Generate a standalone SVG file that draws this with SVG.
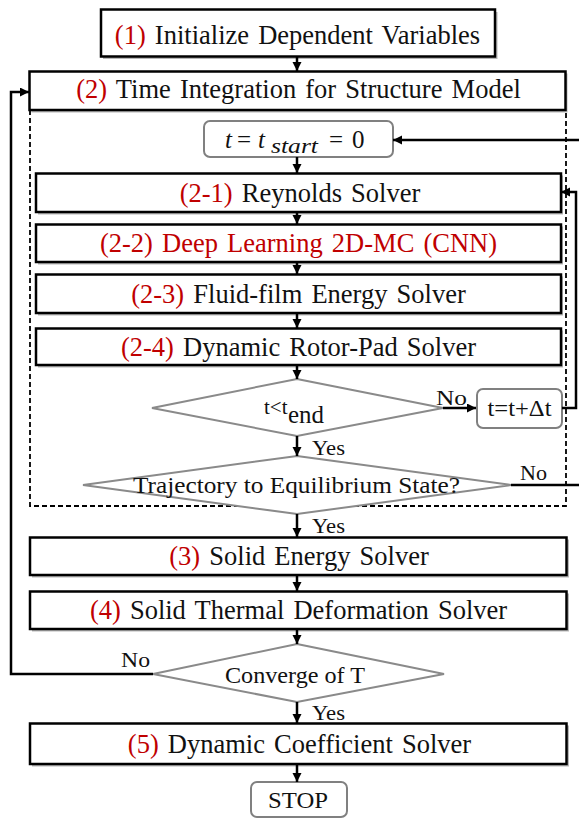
<svg xmlns="http://www.w3.org/2000/svg" width="579" height="819" viewBox="0 0 579 819" font-family="'Liberation Serif', 'Times New Roman', Times, serif">
<style>
  text { font-family: 'Liberation Serif', 'Times New Roman', Times, serif; fill: #111; }
  .lbl { font-size: 26.5px; text-anchor: middle; word-spacing: 2.5px; }
  .small { font-size: 22px; }
  .red { fill: #C00000; }
  .box { fill: #fff; stroke: #000; stroke-width: 2.5; }
  .shadow { fill: #b8b8b8; stroke: none; }
  .rbox { fill: #fff; stroke: #808080; stroke-width: 2; }
  .dia { fill: #fff; stroke: #8a8a8a; stroke-width: 2; }
  .conn { fill: none; stroke: #000; stroke-width: 2.5; }
  .dash { fill: none; stroke: #000; stroke-width: 1.8; stroke-dasharray: 5 3; }
</style>
<defs>
  <marker id="ah" markerUnits="userSpaceOnUse" markerWidth="10" markerHeight="10" refX="9" refY="4.5" orient="auto">
    <path d="M0,0 L9,4.5 L0,9 z" fill="#000"/>
  </marker>
</defs>
<rect width="579" height="819" fill="#fff"/>

<!-- dashed region -->
<path class="dash" d="M30,110 V506 H566 V110"/>

<g id="n1">
  <rect class="shadow" x="103" y="12" width="394.5" height="47"/>
  <rect class="box" x="101" y="9.5" width="394" height="47"/>
  <text class="lbl" x="297.5" y="43.5"><tspan class="red">(1)</tspan> Initialize Dependent Variables</text>
</g>
<g id="n2">
  <rect class="shadow" x="31.5" y="73.5" width="536" height="39"/>
  <rect class="box" x="29.5" y="71.5" width="536" height="38.5"/>
  <text class="lbl" x="298.5" y="97.5"><tspan class="red">(2)</tspan> Time Integration for Structure Model</text>
</g>
<g id="n_tstart">
  <rect class="rbox" x="204" y="121" width="189" height="36" rx="6"/>
  <text y="148" font-size="25"><tspan x="225" font-style="italic">t</tspan><tspan x="237">=</tspan><tspan x="258" font-style="italic">t</tspan><tspan x="271" y="153" font-style="italic" font-size="20" textLength="47" lengthAdjust="spacingAndGlyphs">start</tspan><tspan x="329" y="148">=</tspan><tspan x="352">0</tspan></text>
</g>
<g id="n21">
  <rect class="shadow" x="38" y="175.5" width="525" height="39"/>
  <rect class="box" x="36" y="173.5" width="525" height="38.5"/>
  <text class="lbl" x="300" y="201.5"><tspan class="red">(2-1)</tspan> Reynolds Solver</text>
</g>
<g id="n22">
  <rect class="shadow" x="38" y="226.5" width="525" height="38"/>
  <rect class="box" x="36" y="224.5" width="525" height="37.5"/>
  <text class="lbl red" x="298.5" y="252">(2-2) Deep Learning 2D-MC (CNN)</text>
</g>
<g id="n23">
  <rect class="shadow" x="38" y="276.5" width="525" height="39"/>
  <rect class="box" x="36" y="274.5" width="525" height="38.5"/>
  <text class="lbl" x="298.5" y="302.5"><tspan class="red">(2-3)</tspan> Fluid-film Energy Solver</text>
</g>
<g id="n24">
  <rect class="shadow" x="38" y="330.5" width="525" height="37"/>
  <rect class="box" x="36" y="328.5" width="525" height="36.5"/>
  <text class="lbl" x="298.5" y="355.5"><tspan class="red">(2-4)</tspan> Dynamic Rotor-Pad Solver</text>
</g>
<g id="d1">
  <polygon class="dia" points="297,379 443,408 297,436 152,408"/>
  <text x="264" y="414" font-size="21">t&lt;t</text>
  <text x="288" y="423" font-size="25" textLength="36" lengthAdjust="spacingAndGlyphs">end</text>
</g>
<g id="n_dt">
  <rect class="rbox" x="477" y="389" width="85" height="39" rx="6"/>
  <text x="519.5" y="416" font-size="23" text-anchor="middle" textLength="64" lengthAdjust="spacingAndGlyphs">t=t+Δt</text>
</g>
<g id="d2">
  <polygon class="dia" points="297,456 511,485 297,514 83,485"/>
  <text x="296.5" y="493" font-size="24" text-anchor="middle" textLength="327" lengthAdjust="spacingAndGlyphs">Trajectory to Equilibrium State?</text>
</g>
<g id="n3">
  <rect class="shadow" x="32" y="539.5" width="537" height="38"/>
  <rect class="box" x="30" y="537.5" width="536.5" height="37.5"/>
  <text class="lbl" x="299" y="565"><tspan class="red">(3)</tspan> Solid Energy Solver</text>
</g>
<g id="n4">
  <rect class="shadow" x="32" y="593.5" width="537" height="38"/>
  <rect class="box" x="30" y="591.5" width="536.5" height="37.5"/>
  <text class="lbl" x="298.5" y="619"><tspan class="red">(4)</tspan> Solid Thermal Deformation Solver</text>
</g>
<g id="d3">
  <polygon class="dia" points="297,644 444,674 297,702 153,674"/>
  <text x="295" y="683" font-size="24" text-anchor="middle" textLength="140" lengthAdjust="spacingAndGlyphs">Converge of T</text>
</g>
<g id="n5">
  <rect class="shadow" x="32" y="725.5" width="537" height="41"/>
  <rect class="box" x="30" y="723.5" width="536.5" height="40.5"/>
  <text class="lbl" x="299.5" y="752.5"><tspan class="red">(5)</tspan> Dynamic Coefficient Solver</text>
</g>
<g id="n_stop">
  <rect class="rbox" x="251" y="782" width="96" height="35" rx="6"/>
  <text x="298" y="808" font-size="24" text-anchor="middle" textLength="60" lengthAdjust="spacingAndGlyphs">STOP</text>
</g>

<g id="connectors">
  <path class="conn" d="M297,56 V71" marker-end="url(#ah)"/>
  <path class="conn" d="M297,157 V173" marker-end="url(#ah)"/>
  <path class="conn" d="M297,212 V224" marker-end="url(#ah)"/>
  <path class="conn" d="M297,262 V274" marker-end="url(#ah)"/>
  <path class="conn" d="M297,313 V328" marker-end="url(#ah)"/>
  <path class="conn" d="M297,365 V379" marker-end="url(#ah)"/>
  <path class="conn" d="M297,436 V456" marker-end="url(#ah)"/>
  <path class="conn" d="M297,514 V537" marker-end="url(#ah)"/>
  <path class="conn" d="M297,575 V591" marker-end="url(#ah)"/>
  <path class="conn" d="M297,629 V644" marker-end="url(#ah)"/>
  <path class="conn" d="M297,702 V723" marker-end="url(#ah)"/>
  <path class="conn" d="M297,764 V782" marker-end="url(#ah)"/>
  <path class="conn" d="M443,408 H476" marker-end="url(#ah)"/>
  <path class="conn" d="M562,408 H576 V192 H561" marker-end="url(#ah)"/>
  <path class="conn" d="M511,485 H579"/>
  <path class="conn" d="M579,140 H393" marker-end="url(#ah)"/>
  <path class="conn" d="M153,674 H11 V92 H29" marker-end="url(#ah)"/>
  <text class="small" x="436" y="405" textLength="31" lengthAdjust="spacingAndGlyphs">No</text>
  <text class="small" x="520" y="480" textLength="27" lengthAdjust="spacingAndGlyphs">No</text>
  <text class="small" x="121" y="667" textLength="29" lengthAdjust="spacingAndGlyphs">No</text>
  <text class="small" x="312" y="455" textLength="33" lengthAdjust="spacingAndGlyphs">Yes</text>
  <text class="small" x="312" y="533" textLength="33" lengthAdjust="spacingAndGlyphs">Yes</text>
  <text class="small" x="312" y="720" textLength="33" lengthAdjust="spacingAndGlyphs">Yes</text>
</g>
</svg>
